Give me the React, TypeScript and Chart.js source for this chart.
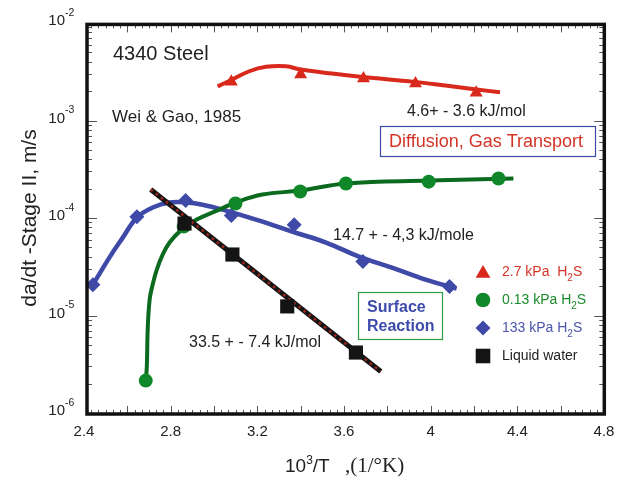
import React, { useEffect, useRef } from 'react';
import { Chart, registerables } from 'chart.js';

Chart.register(...registerables);

// ---- Data (x = 10^3/T, y = da/dt in m/s) ----
const redPtsX = [3.08, 3.40, 3.69, 3.93, 4.21];
const redPtsY = [2.5e-3, 2.96e-3, 2.69e-3, 2.39e-3, 1.93e-3];
const redFitX = [3.017, 3.079, 3.163, 3.24, 3.332, 3.401, 3.545, 3.687, 3.926, 4.068, 4.211, 4.32];
const redFitY = [2.24e-3, 2.6e-3, 3.2e-3, 3.55e-3, 3.6e-3, 3.33e-3, 3.03e-3, 2.8e-3, 2.49e-3, 2.28e-3, 2.08e-3, 1.95e-3];

const greenPtsX = [2.685, 2.86, 3.099, 3.398, 3.609, 3.991, 4.313];
const greenPtsY = [2.15e-6, 8.17e-5, 1.41e-4, 1.87e-4, 2.26e-4, 2.36e-4, 2.54e-4];
const greenFitX = [2.685, 2.69, 2.694, 2.703, 2.717, 2.736, 2.763, 2.795, 2.841, 2.92, 3.025, 3.099, 3.223, 3.398, 3.609, 3.991, 4.382];
const greenFitY = [2.15e-6, 3.0e-6, 7.18e-6, 1.46e-5, 2.08e-5, 2.96e-5, 4.22e-5, 5.6e-5, 7.25e-5, 9.63e-5, 1.22e-4, 1.44e-4, 1.74e-4, 1.91e-4, 2.26e-4, 2.42e-4, 2.54e-4];

const bluePtsX = [2.441, 2.644, 2.869, 3.08, 3.37, 3.687, 4.087];
const bluePtsY = [2.07e-5, 1.03e-4, 1.51e-4, 1.06e-4, 8.55e-5, 3.57e-5, 1.98e-5];
const blueFitX = [2.441, 2.52, 2.579, 2.644, 2.717, 2.795, 2.874, 2.947, 3.039, 3.209, 3.361, 3.517, 3.669, 3.821, 3.977, 4.12];
const blueFitY = [2.07e-5, 4.02e-5, 6.29e-5, 1.01e-4, 1.28e-4, 1.44e-4, 1.44e-4, 1.37e-4, 1.22e-4, 9.4e-5, 7.25e-5, 5.6e-5, 4.02e-5, 3.1e-5, 2.33e-5, 1.89e-5];

const blackPtsX = [2.864, 3.085, 3.338, 3.655];
const blackPtsY = [8.77e-5, 4.22e-5, 1.24e-5, 4.17e-6];
const blackFitX = [2.708, 3.77];
const blackFitY = [1.96e-4, 2.66e-6];

const xTickLabels = [2.4, 2.8, 3.2, 3.6, 4.0, 4.4, 4.8];
const yTickExponents = [-2, -3, -4, -5, -6];

const seriesLabels = ['2.7 kPa  H', '0.13 kPa H', '133 kPa H', 'Liquid water'];

const RED = '#d8291c';
const GREEN_LINE = '#0b6a1d';
const GREEN_PT = '#10882a';
const BLUE = '#3f49a8';
const BLACK = '#141414';
const SANS = '"Liberation Sans", Arial, Helvetica, sans-serif';
const SERIF = '"Liberation Serif", "Times New Roman", serif';

const zip = (xs: number[], ys: number[]) => xs.map((x, i) => ({ x, y: ys[i] }));

function drawMarker(ctx: CanvasRenderingContext2D, kind: string, x: number, y: number, r: number, color: string) {
  ctx.save();
  ctx.fillStyle = color;
  ctx.beginPath();
  if (kind === 'triangle') {
    ctx.moveTo(x, y - r);
    ctx.lineTo(x + r * Math.sin((2 * Math.PI) / 3), y - r * Math.cos((2 * Math.PI) / 3));
    ctx.lineTo(x + r * Math.sin((4 * Math.PI) / 3), y - r * Math.cos((4 * Math.PI) / 3));
    ctx.closePath();
  } else if (kind === 'circle') {
    ctx.arc(x, y, r, 0, Math.PI * 2);
  } else if (kind === 'diamond') {
    ctx.moveTo(x, y - r);
    ctx.lineTo(x + r, y);
    ctx.lineTo(x, y + r);
    ctx.lineTo(x - r, y);
    ctx.closePath();
  } else {
    ctx.rect(x - r, y - r, 2 * r, 2 * r);
  }
  ctx.fill();
  ctx.restore();
}

const decorPlugin = {
  id: 'decor',
  afterDraw(chart: any) {
    const ctx: CanvasRenderingContext2D = chart.ctx;
    const xs = chart.scales.x;
    const ys = chart.scales.y;
    const ca = chart.chartArea;
    const L = ca.left + 3, R = ca.right + 0.3, T = ca.top + 1.4, B = ca.bottom + 1;

    ctx.save();
    // ticks
    ctx.strokeStyle = '#555';
    ctx.lineWidth = 1;
    const vline = (x: number, y0: number, y1: number) => {
      ctx.beginPath();
      ctx.moveTo(Math.round(x) + 0.5, y0);
      ctx.lineTo(Math.round(x) + 0.5, y1);
      ctx.stroke();
    };
    const hline = (y: number, x0: number, x1: number) => {
      ctx.beginPath();
      ctx.moveTo(x0, Math.round(y) + 0.5);
      ctx.lineTo(x1, Math.round(y) + 0.5);
      ctx.stroke();
    };
    for (let i = 0; i <= 72; i++) {
      const v = 2.4 + (i * 0.2) / 6;
      const px = xs.getPixelForValue(v);
      if (px < L + 1 || px > R - 1) continue;
      const len = i % 6 === 0 ? 8 : 4;
      vline(px, B - len, B);
      vline(px, T, T + len);
    }
    for (let e = -6; e < -2; e++) {
      for (let m = 1; m <= 9; m++) {
        const v = m * Math.pow(10, e);
        const py = ys.getPixelForValue(v);
        if (py < T + 1 || py > B - 1) continue;
        const len = m === 1 ? 10 : 5;
        hline(py, L, L + len);
        hline(py, R - len, R);
      }
    }
    // frame
    ctx.strokeStyle = '#111';
    ctx.lineWidth = 3.5;
    ctx.strokeRect(L, T, R - L, B - T);

    // x tick labels
    ctx.fillStyle = '#222';
    ctx.font = `15px ${SANS}`;
    ctx.textAlign = 'center';
    ctx.textBaseline = 'middle';
    xTickLabels.forEach((v) => {
      const label = Number.isInteger(v) ? String(v) : v.toFixed(1);
      ctx.fillText(label, xs.getPixelForValue(v), 432);
    });
    // y tick labels
    yTickExponents.forEach((e) => {
      const py = ys.getPixelForValue(Math.pow(10, e));
      ctx.font = `10.5px ${SANS}`;
      ctx.textAlign = 'left';
      ctx.fillText(String(e), 65, py - 10);
      ctx.font = `15px ${SANS}`;
      ctx.textAlign = 'right';
      ctx.fillText('10', 65, py - 2);
    });

    // axis titles
    ctx.save();
    ctx.translate(30, 218);
    ctx.rotate(-Math.PI / 2);
    ctx.font = `21px ${SANS}`;
    ctx.textAlign = 'center';
    ctx.fillText('da/dt -Stage II, m/s', 0, 0);
    ctx.restore();

    ctx.textAlign = 'left';
    ctx.textBaseline = 'alphabetic';
    let tx = 285;
    const base = 472;
    ctx.font = `19px ${SANS}`;
    ctx.fillText('10', tx, base);
    tx += ctx.measureText('10').width;
    ctx.font = `12px ${SANS}`;
    ctx.fillText('3', tx, base - 8);
    tx += ctx.measureText('3').width;
    ctx.font = `19px ${SANS}`;
    ctx.fillText('/T', tx, base);
    ctx.font = `21px ${SERIF}`;
    ctx.fillText(',(1/°K)', 345, base);

    // annotations
    ctx.textBaseline = 'middle';
    ctx.fillStyle = '#222';
    ctx.font = `20px ${SANS}`;
    ctx.fillText('4340 Steel', 113, 54);
    ctx.font = `17px ${SANS}`;
    ctx.fillText('Wei & Gao, 1985', 112, 117);
    ctx.font = `16px ${SANS}`;
    ctx.fillText('4.6+ - 3.6 kJ/mol', 407, 112);
    ctx.fillText('14.7 + - 4,3 kJ/mole', 333, 236);
    ctx.fillText('33.5 + - 7.4 kJ/mol', 189, 343);

    ctx.fillStyle = '#fff';
    ctx.fillRect(380.5, 126.5, 215, 30);
    ctx.strokeStyle = '#3b4ba8';
    ctx.lineWidth = 1.2;
    ctx.strokeRect(380.5, 126.5, 215, 30);
    ctx.fillStyle = '#d33427';
    ctx.font = `18px ${SANS}`;
    ctx.fillText('Diffusion, Gas Transport', 389, 142);

    ctx.fillStyle = '#fff';
    ctx.fillRect(358.5, 292.5, 84, 47);
    ctx.strokeStyle = '#2f9e45';
    ctx.strokeRect(358.5, 292.5, 84, 47);
    ctx.fillStyle = '#3d4cab';
    ctx.font = `bold 16px ${SANS}`;
    ctx.fillText('Surface', 367, 308);
    ctx.fillText('Reaction', 367, 327);

    // legend
    const legendRows = [
      { kind: 'triangle', r: 8.5, color: RED, text: '#d33427', y: 272, sub: true },
      { kind: 'circle', r: 7.3, color: GREEN_PT, text: '#1a8a2c', y: 300, sub: true },
      { kind: 'diamond', r: 7.5, color: BLUE, text: '#4a55ad', y: 328, sub: true },
      { kind: 'square', r: 7.3, color: BLACK, text: '#222', y: 356, sub: false },
    ];
    legendRows.forEach((row, i) => {
      drawMarker(ctx, row.kind, 483, row.kind === 'triangle' ? row.y + 1.5 : row.y, row.r, row.color);
      ctx.fillStyle = row.text;
      ctx.font = `14px ${SANS}`;
      ctx.textBaseline = 'middle';
      let lx = 502;
      ctx.fillText(seriesLabels[i], lx, row.y);
      if (row.sub) {
        lx += ctx.measureText(seriesLabels[i]).width;
        ctx.font = `10px ${SANS}`;
        ctx.fillText('2', lx, row.y + 6);
        lx += ctx.measureText('2').width;
        ctx.font = `14px ${SANS}`;
        ctx.fillText('S', lx, row.y);
      }
    });
    ctx.restore();
  },
};

export default function App() {
  const ref = useRef<HTMLCanvasElement | null>(null);
  useEffect(() => {
    if (!ref.current) return;
    const chart = new Chart(ref.current, {
      type: 'scatter',
      data: {
        datasets: [
          { data: zip(blueFitX, blueFitY), showLine: true, borderColor: BLUE, borderWidth: 4.5, pointRadius: 0, tension: 0.4, order: 10 },
          { data: zip(bluePtsX, bluePtsY), pointStyle: 'rectRot', pointRadius: 7.5, backgroundColor: BLUE, borderWidth: 0, order: 9 },
          { data: zip(greenFitX, greenFitY), showLine: true, borderColor: GREEN_LINE, borderWidth: 4, pointRadius: 0, tension: 0.4, order: 8 },
          { data: zip(greenPtsX, greenPtsY), pointStyle: 'circle', pointRadius: 7, backgroundColor: GREEN_PT, borderWidth: 0, order: 7 },
          { data: zip(blackFitX, blackFitY), showLine: true, borderColor: BLACK, borderWidth: 5, pointRadius: 0, order: 6 },
          { data: zip(blackFitX, blackFitY), showLine: true, borderColor: '#a3261a', borderWidth: 2.5, borderDash: [2.5, 4], pointRadius: 0, order: 5 },
          { data: zip(blackPtsX, blackPtsY), pointStyle: 'rect', pointRadius: 10, backgroundColor: BLACK, borderWidth: 0, order: 4 },
          { data: zip(redFitX, redFitY), showLine: true, borderColor: RED, borderWidth: 4, pointRadius: 0, tension: 0.4, order: 3 },
          { data: zip(redPtsX, redPtsY), pointStyle: 'triangle', pointRadius: 7.5, backgroundColor: RED, borderWidth: 0, order: 2 },
        ],
      },
      options: {
        responsive: false,
        animation: false,
        layout: { padding: { left: 84, right: 27, top: 23, bottom: 67 } },
        plugins: { legend: { display: false }, tooltip: { enabled: false } },
        scales: {
          x: { type: 'linear', min: 2.4, max: 4.8, display: false },
          y: { type: 'logarithmic', min: 1e-6, max: 1e-2, display: false },
        },
      },
      plugins: [decorPlugin],
    });
    return () => chart.destroy();
  }, []);
  return (
    <div style={{ position: 'fixed', left: 0, top: 0, width: 631, height: 480, background: '#fff' }}>
      <canvas ref={ref} width={631} height={480} style={{ width: 631, height: 480, display: 'block' }} />
    </div>
  );
}
